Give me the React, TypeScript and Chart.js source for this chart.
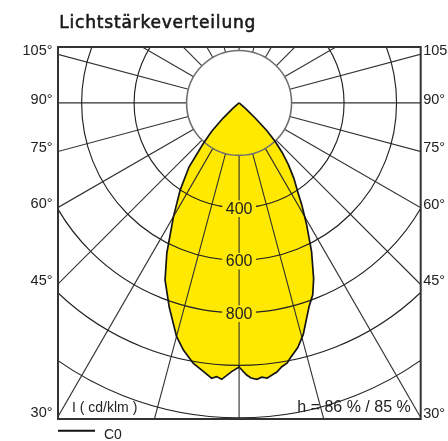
import React, { useEffect, useRef } from "react";
import { Chart, registerables } from "chart.js";

Chart.register(...registerables);

// ---- data -----------------------------------------------------------------
const titleText = "Lichtstärkeverteilung";
const planeName = "C0";
const unitText = "I ( cd/klm )";
const efficiencyText = "h = 86 % / 85 %";

// gamma angle (deg, 0 = straight down) and luminous intensity (cd/klm)
const gammaC0 = [0, 1.6, 2.5, 3.7, 4.7, 5.8, 6.9, 8, 9.2, 10.5, 11.3, 13.5, 15.5, 18.9, 21, 23, 26, 29, 31.6, 33, 36, 38.6, 41, 43.2, 45, 46.8, 48.5, 50];
const intensityC0 = [1006, 1037, 1049, 1055, 1048, 1054, 1044, 1035, 1018, 1007, 992, 958, 915, 822, 783, 727, 630, 531, 456, 416, 355, 301, 250, 200, 150, 84, 32, 0];
const gammaC180 = [0, 1.6, 3.6, 4.7, 5.7, 7.6, 10, 12.7, 15, 18.9, 22.7, 25.7, 30, 34.1, 38, 41.5, 44, 46.5, 48.5, 50];
const intensityC180 = [1006, 1024, 1055, 1046, 1054, 1032, 1007, 965, 921, 822, 731, 635, 500, 400, 310, 205, 150, 85, 32, 0];

const ringValues = [200, 400, 600, 800, 1000, 1200];
const ringLabels = [400, 600, 800];
const rayStepDeg = 15;
const angleTicks = [30, 45, 60, 75, 90, 105];

// ---- helpers ----------------------------------------------------------------
const rad = (d: number) => (d * Math.PI) / 180;

function buildCurve() {
  const pts: { x: number; y: number }[] = [];
  for (let i = gammaC0.length - 1; i >= 0; i--) {
    const g = rad(gammaC0[i]);
    pts.push({ x: intensityC0[i] * Math.sin(g), y: -intensityC0[i] * Math.cos(g) });
  }
  for (let i = 0; i < gammaC180.length; i++) {
    const g = rad(gammaC180[i]);
    pts.push({ x: -intensityC180[i] * Math.sin(g), y: -intensityC180[i] * Math.cos(g) });
  }
  return pts;
}

const YELLOW = "rgb(255, 233, 0)";
const SANS = "'Liberation Sans', Arial, sans-serif";

const gridPlugin = {
  id: "polarGrid",
  beforeDatasetsDraw(chart: any) {
    const { ctx, chartArea: a, scales } = chart;
    const xs = scales.x, ys = scales.y;
    const cx = xs.getPixelForValue(0);
    const cy = ys.getPixelForValue(0);
    const k = (xs.getPixelForValue(1000) - cx) / 1000;
    ctx.save();
    ctx.beginPath();
    ctx.rect(a.left, a.top, a.right - a.left, a.bottom - a.top);
    ctx.clip();
    // rays
    ctx.strokeStyle = "#303030";
    ctx.lineWidth = 1.1;
    const r0 = ringValues[0];
    const r1 = 4000;
    for (let g = 0; g < 360; g += rayStepDeg) {
      const t = rad(g);
      ctx.beginPath();
      ctx.moveTo(xs.getPixelForValue(r0 * Math.sin(t)), ys.getPixelForValue(-r0 * Math.cos(t)));
      ctx.lineTo(xs.getPixelForValue(r1 * Math.sin(t)), ys.getPixelForValue(-r1 * Math.cos(t)));
      ctx.stroke();
    }
    // rings
    ringValues.forEach((v, i) => {
      ctx.beginPath();
      ctx.arc(cx, cy, v * k, 0, Math.PI * 2);
      ctx.strokeStyle = i === 0 ? "#707070" : "#222";
      ctx.lineWidth = i === 0 ? 1.6 : 1.15;
      ctx.stroke();
    });
    ctx.restore();
  },
  afterDatasetsDraw(chart: any) {
    const { ctx, chartArea: a, scales } = chart;
    const xs = scales.x, ys = scales.y;
    ctx.save();
    // frame
    ctx.strokeStyle = "#333";
    ctx.lineWidth = 2;
    ctx.strokeRect(a.left, a.top, a.right - a.left, a.bottom - a.top);

    // ring labels
    ctx.font = `16px ${SANS}`;
    ctx.textAlign = "center";
    ctx.textBaseline = "alphabetic";
    ringLabels.forEach((v) => {
      const px = xs.getPixelForValue(0);
      const py = ys.getPixelForValue(-v);
      const w = ctx.measureText(String(v)).width;
      ctx.fillStyle = YELLOW;
      ctx.fillRect(px - w / 2 - 3.5, py - 7.5, w + 7, 16.5);
      ctx.fillStyle = "#222";
      ctx.fillText(String(v), px, py + 6);
    });

    // angle labels
    ctx.font = `14.5px ${SANS}`;
    ctx.fillStyle = "#222";
    angleTicks.forEach((g) => {
      const t = rad(g);
      const yl = xs.min / Math.tan(t);
      const yr = -xs.max / Math.tan(t);
      ctx.textAlign = "right";
      ctx.fillText(`${g}°`, a.left - 5.5, ys.getPixelForValue(yl) + 0.8);
      ctx.textAlign = "left";
      ctx.fillText(`${g}°`, a.right + 2.5, ys.getPixelForValue(yr) + 0.8);
    });

    // unit & efficiency
    ctx.textAlign = "left";
    ctx.font = `14px ${SANS}`;
    ctx.fillText(unitText, a.left + 14, a.bottom - 7.5);
    ctx.textAlign = "right";
    ctx.font = `16px ${SANS}`;
    ctx.fillText(efficiencyText, a.right - 10, a.bottom - 7);

    // legend
    ctx.strokeStyle = "#111";
    ctx.lineWidth = 2;
    ctx.beginPath();
    ctx.moveTo(a.left, a.bottom + 11.7);
    ctx.lineTo(a.left + 37, a.bottom + 11.7);
    ctx.stroke();
    ctx.textAlign = "left";
    ctx.font = `14px ${SANS}`;
    ctx.fillStyle = "#222";
    ctx.fillText(planeName, a.left + 46, a.bottom + 20.3);

    // title (slightly emboldened)
    ctx.font = `17px 'DejaVu Sans', sans-serif`;
    (ctx as any).letterSpacing = "0.8px";
    ctx.fillStyle = "#1a1a1a";
    ctx.strokeStyle = "#1a1a1a";
    ctx.lineWidth = 0.6;
    ctx.lineJoin = "round";
    ctx.fillText(titleText, a.left + 1.3, 28.3);
    ctx.strokeText(titleText, a.left + 1.3, 28.3);
    (ctx as any).letterSpacing = "0px";
    ctx.restore();
  },
};

export default function App() {
  const ref = useRef<HTMLCanvasElement | null>(null);
  useEffect(() => {
    if (!ref.current) return;
    const chart = new Chart(ref.current, {
      type: "line",
      data: {
        datasets: [
          {
            label: planeName,
            data: buildCurve(),
            borderColor: "#151515",
            borderWidth: 1.7,
            backgroundColor: YELLOW,
            fill: "shape",
            pointRadius: 0,
            tension: 0,
          } as any,
        ],
      },
      options: {
        animation: false,
        responsive: false,
        devicePixelRatio: 1,
        events: [],
        layout: { padding: { left: 58, top: 47, right: 27.3, bottom: 22 } },
        scales: {
          x: { type: "linear", min: -690, max: 692, display: false },
          y: { type: "linear", min: -1204, max: 213, display: false },
        },
        plugins: {
          legend: { display: false },
          tooltip: { enabled: false },
          title: { display: false },
          filler: { propagate: false, drawTime: "beforeDatasetsDraw" } as any,
        },
      },
      plugins: [gridPlugin],
    });
    return () => chart.destroy();
  }, []);
  return (
    <div style={{ position: "absolute", left: 0, top: 0, width: 448, height: 441, background: "#fff" }}>
      <canvas ref={ref} width={448} height={441} />
    </div>
  );
}
